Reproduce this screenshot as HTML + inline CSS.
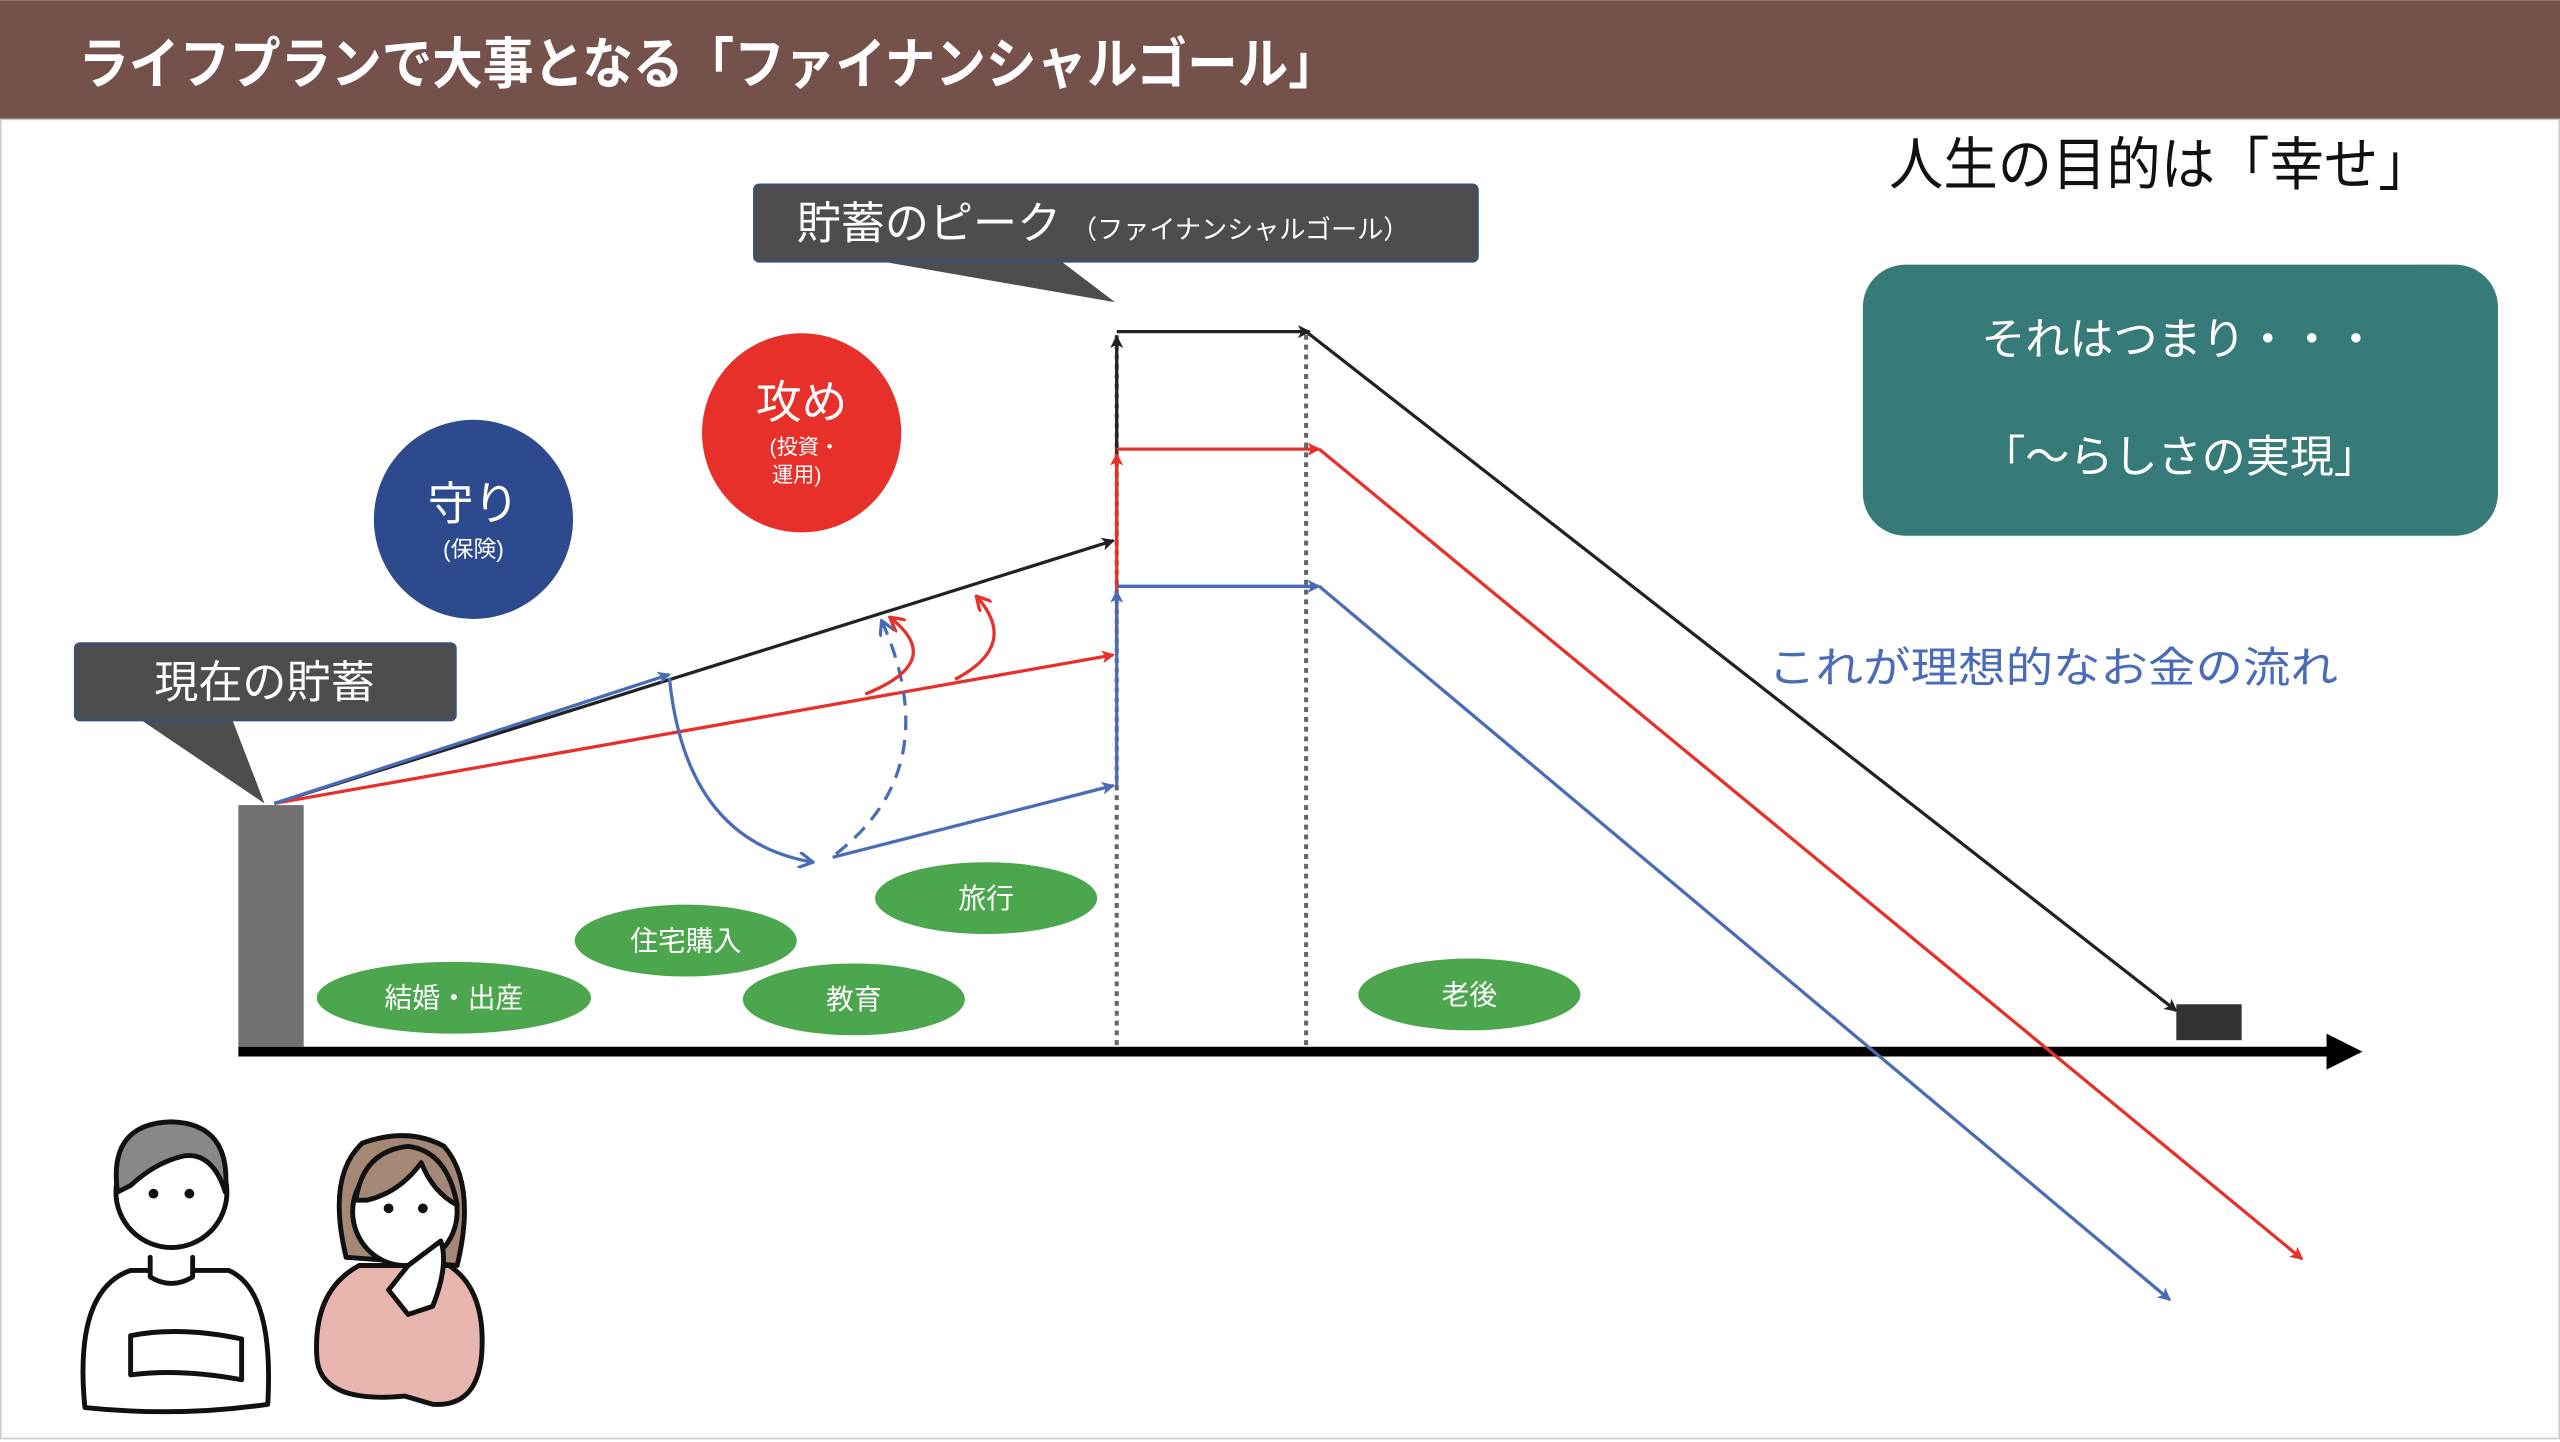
<!DOCTYPE html>
<html><head><meta charset="utf-8"><style>
html,body{margin:0;padding:0;background:#fff}
svg{display:block}
text{font-family:"Liberation Sans","Noto Sans CJK JP",sans-serif}
</style></head><body>
<svg width="2560" height="1442" viewBox="0 0 1568 883" xmlns="http://www.w3.org/2000/svg">
<defs>
<marker id="ak" markerWidth="8" markerHeight="8" refX="7" refY="4" orient="auto" markerUnits="userSpaceOnUse"><path d="M0,0 L8,4 L0,8 L2,4z" fill="#222"/></marker>
<marker id="ar" markerWidth="8" markerHeight="8" refX="7" refY="4" orient="auto" markerUnits="userSpaceOnUse"><path d="M0,0 L8,4 L0,8 L2,4z" fill="#e8302a"/></marker>
<marker id="ab" markerWidth="8" markerHeight="8" refX="7" refY="4" orient="auto" markerUnits="userSpaceOnUse"><path d="M0,0 L8,4 L0,8 L2,4z" fill="#4a6cb8"/></marker>
<marker id="ao" markerWidth="10" markerHeight="10" refX="9" refY="5" orient="auto" markerUnits="userSpaceOnUse"><path d="M0,0 L9,5 L0,10" fill="none" stroke="#e8302a" stroke-width="2"/></marker>
<marker id="abo" markerWidth="10" markerHeight="10" refX="9" refY="5" orient="auto" markerUnits="userSpaceOnUse"><path d="M0,0 L9,5 L0,10" fill="none" stroke="#4a6cb8" stroke-width="2"/></marker>
</defs>
<rect x="0" y="0" width="1568" height="73" fill="#74524b"/>
<text x="48" y="51" font-size="34" font-weight="bold" fill="#fff" textLength="772" lengthAdjust="spacingAndGlyphs">ライフプランで大事となる「ファイナンシャルゴール」</text>
<rect x="0.5" y="73" width="1567" height="808" fill="none" stroke="#ccc" stroke-width="1"/>
<text x="1157" y="113" font-size="35" fill="#111" textLength="333" lengthAdjust="spacingAndGlyphs">人生の目的は「幸せ」</text>
<rect x="1141" y="162" width="389" height="166" rx="26" fill="#367b77"/>
<text x="1335" y="217" font-size="27" fill="#fff" text-anchor="middle">それはつまり・・・</text>
<text x="1335" y="289" font-size="27" fill="#fff" text-anchor="middle">「～らしさの実現」</text>
<path d="M540,160 L683,185 L650,160z" fill="#4d4d4d"/>
<rect x="462" y="113" width="443" height="47" rx="3" fill="#4d4d4d" stroke="#3c4f78" stroke-width="1.5"/>
<text x="488" y="146" font-size="27" fill="#fff">貯蓄のピーク<tspan font-size="16" dx="6">（ファイナンシャルゴール）</tspan></text>
<path d="M85,440 L162,492 L142,440z" fill="#4d4d4d"/>
<rect x="46" y="394" width="233" height="47" rx="3" fill="#4d4d4d" stroke="#3c4f78" stroke-width="1.5"/>
<text x="162" y="427" font-size="27" fill="#fff" text-anchor="middle">現在の貯蓄</text>
<circle cx="290" cy="318" r="61" fill="#2e4a8e"/>
<text x="290" y="318" font-size="28" fill="#fff" text-anchor="middle">守り</text>
<text x="290" y="341" font-size="14" fill="#fff" text-anchor="middle">(保険)</text>
<circle cx="491" cy="265" r="61" fill="#e8302a"/>
<text x="491" y="256" font-size="28" fill="#fff" text-anchor="middle">攻め</text>
<text x="493" y="278" font-size="13" fill="#fff" text-anchor="middle">(投資・</text>
<text x="488" y="295" font-size="13" fill="#fff" text-anchor="middle">運用)</text>
<rect x="146" y="493" width="40" height="148" fill="#707070"/>
<line x1="684" y1="205" x2="684" y2="640" stroke="#666" stroke-width="2.5" stroke-dasharray="3,3"/>
<line x1="800" y1="205" x2="800" y2="640" stroke="#666" stroke-width="2.5" stroke-dasharray="3,3"/>
<line x1="146" y1="644" x2="1428" y2="644" stroke="#000" stroke-width="6"/>
<path d="M1425,633 L1447,644 L1425,655z" fill="#000"/>
<g fill="none" stroke-width="2">
<line x1="168" y1="492" x2="682" y2="331" stroke="#222" marker-end="url(#ak)"/>
<line x1="684" y1="331" x2="684" y2="206" stroke="#222" marker-end="url(#ak)"/>
<line x1="684" y1="203" x2="802" y2="203" stroke="#222" marker-end="url(#ak)"/>
<line x1="800" y1="203" x2="1333" y2="619" stroke="#222" marker-end="url(#ak)"/>
<line x1="168" y1="492" x2="682" y2="401" stroke="#e8302a" marker-end="url(#ar)"/>
<line x1="684" y1="401" x2="684" y2="278" stroke="#e8302a" marker-end="url(#ar)"/>
<line x1="684" y1="275" x2="808" y2="275" stroke="#e8302a" marker-end="url(#ar)"/>
<line x1="808" y1="275" x2="1410" y2="771" stroke="#e8302a" marker-end="url(#ar)"/>
<line x1="168" y1="492" x2="410" y2="413" stroke="#4a6cb8" marker-end="url(#ab)"/>
<path d="M410,415 Q420,515 498,528" stroke="#4a6cb8" marker-end="url(#abo)"/>
<line x1="510" y1="525" x2="682" y2="481" stroke="#4a6cb8" marker-end="url(#ab)"/>
<line x1="684" y1="481" x2="684" y2="362" stroke="#4a6cb8" marker-end="url(#ab)"/>
<line x1="684" y1="359" x2="808" y2="359" stroke="#4a6cb8" marker-end="url(#ab)"/>
<line x1="808" y1="359" x2="1329" y2="796" stroke="#4a6cb8" marker-end="url(#ab)"/>
<path d="M512,523 Q580,470 540,380" stroke="#4a6cb8" stroke-dasharray="9,6" marker-end="url(#abo)"/>
<path d="M530,425 Q580,405 545,378" stroke="#e8302a" marker-end="url(#ao)"/>
<path d="M585,416 Q625,395 598,365" stroke="#e8302a" marker-end="url(#ao)"/>
</g>
<rect x="1333" y="615" width="40" height="22" fill="#333"/>
<text x="1083" y="418" font-size="26" fill="#4a6cb8" textLength="349" lengthAdjust="spacingAndGlyphs">これが理想的なお金の流れ</text>
<g fill="#4ca64e">
<ellipse cx="278" cy="611" rx="84" ry="22"/>
<ellipse cx="420" cy="576" rx="68" ry="22"/>
<ellipse cx="523" cy="612" rx="68" ry="22"/>
<ellipse cx="604" cy="550" rx="68" ry="22"/>
<ellipse cx="900" cy="609" rx="68" ry="22"/>
</g>
<g font-size="17" fill="#fff" text-anchor="middle">
<text x="278" y="617">結婚・出産</text>
<text x="420" y="582">住宅購入</text>
<text x="523" y="618">教育</text>
<text x="604" y="556">旅行</text>
<text x="900" y="615">老後</text>
</g>
<g stroke="#111" stroke-width="3" stroke-linejoin="round" stroke-linecap="round">
<path d="M52,862 Q45,790 80,778 L140,778 Q168,790 164,860 Q110,868 52,862z" fill="#fff"/>
<path d="M92,770 L92,782 Q105,790 118,782 L118,770" fill="#fff"/>
<circle cx="105" cy="730" r="34" fill="#fff"/>
<path d="M72,730 Q66,688 105,687 Q142,688 138,730 Q130,705 112,708 Q95,712 80,726z" fill="#888"/>
<path d="M80,818 Q110,812 148,820 L148,845 Q110,838 80,842z" fill="#fff"/>
<path d="M248,855 Q195,860 194,830 Q192,790 220,775 L275,775 Q298,790 295,830 Q292,862 265,860z" fill="#e8b4ae"/>
<path d="M212,770 Q200,720 222,700 Q250,690 272,702 Q292,725 280,775 Z" fill="#a48775"/>
<ellipse cx="248" cy="742" rx="32" ry="33" fill="#fff"/>
<path d="M218,735 Q222,705 250,702 Q274,705 280,738 Q265,730 258,712 Q245,730 225,735z" fill="#a48775"/>
<path d="M250,775 L270,760 Q275,775 265,800 L250,805 L238,790z" fill="#fff"/>
</g>
<g fill="#111">
<circle cx="94" cy="731" r="3"/><circle cx="116" cy="731" r="3"/>
<circle cx="238" cy="740" r="3"/><circle cx="259" cy="740" r="3"/>
</g>
</svg>
</body></html>
